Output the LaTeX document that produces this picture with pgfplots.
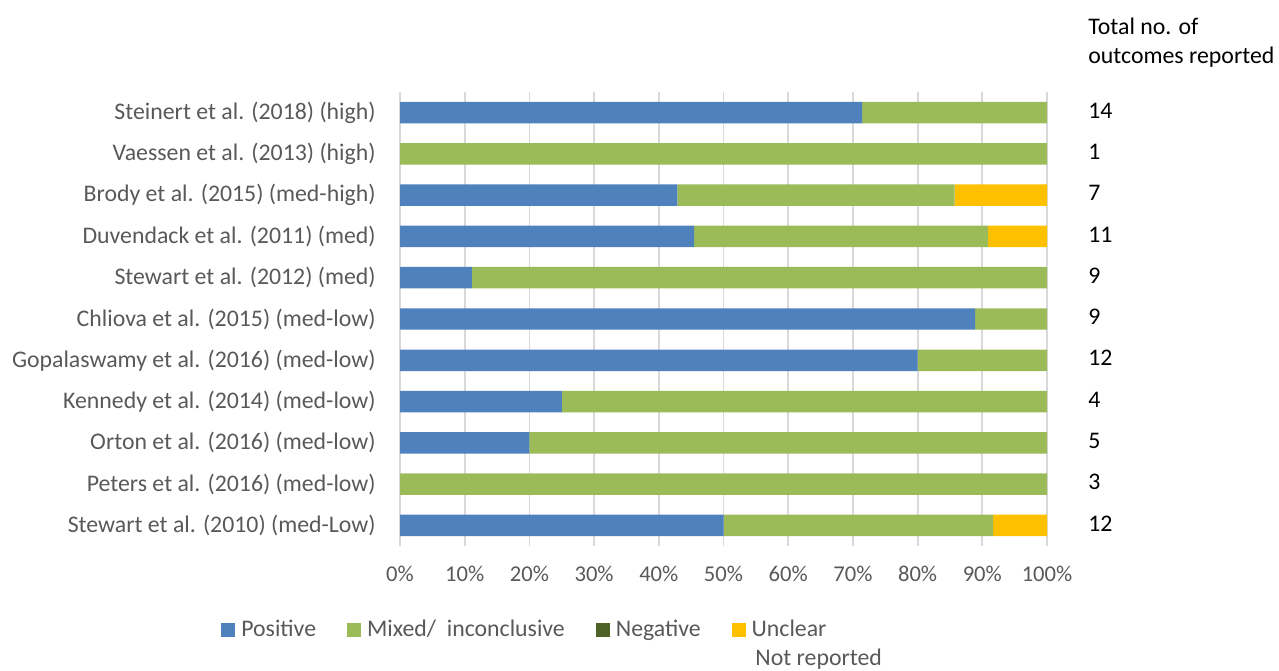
\documentclass[border=0pt]{standalone}
\usepackage{pgfplots}
\pgfplotsset{compat=1.18}
\usepackage{fontspec}
\setmainfont{Carlito}
\definecolor{cpos}{HTML}{4F81BD}
\definecolor{cmix}{HTML}{9BBB59}
\definecolor{cneg}{HTML}{4F6228}
\definecolor{cunc}{HTML}{FFC000}
\definecolor{gridc}{HTML}{D9D9D9}
\definecolor{txt}{HTML}{595959}
\begin{document}
\begin{tikzpicture}[x=1pt,y=1pt]
\fontsize{11.9}{14.3}\selectfont
\useasboundingbox (0,0) rectangle (639.5,335);
\begin{axis}[
  at={(200pt,62pt)}, anchor=south west,
  scale only axis, width=323.5pt, height=227pt,
  clip=false,
  xbar stacked, bar width=0.52,
  xmin=0, xmax=100, ymin=-0.5, ymax=10.5,
  xtick={0,10,...,100},
  xticklabel={\pgfmathprintnumber{\tick}\%},
  xticklabel style={font=\fontsize{11.3}{13.5}\selectfont, text=txt, yshift=-6pt},
  ytick={0,...,10},
  yticklabels={Stewart et al. (2010) (med-Low), Peters et al. (2016) (med-low), Orton et al. (2016) (med-low), Kennedy et al. (2014) (med-low), Gopalaswamy et al. (2016) (med-low), Chliova et al. (2015) (med-low), Stewart et al. (2012) (med), Duvendack et al. (2011) (med), Brody et al. (2015) (med-high), Vaessen et al. (2013) (high), Steinert et al. (2018) (high)},
  yticklabel style={font=\fontsize{11.9}{14.3}\selectfont, text=txt, xshift=-8pt},
  /pgf/number format/assume math mode=true,
  axis line style={draw=none},
  major tick length=0pt,
  xmajorgrids, grid style={draw=gridc, line width=0.9pt},
  legend style={draw=none, at={(-0.286,-0.185)}, anchor=west,
    font=\fontsize{11.9}{14.3}\selectfont, text=txt,
    legend columns=4, column sep=1pt,
    /tikz/every even column/.append style={column sep=13.5pt}},
  legend image code/.code={\fill[#1] (0pt,-3.5pt) rectangle (7pt,3.5pt);},
  every axis plot/.append style={draw=none},
]
\addplot[fill=cpos] coordinates {(50,0) (0,1) (20,2) (25,3) (80,4) (88.9,5) (11.1,6) (45.45,7) (42.86,8) (0,9) (71.43,10)};
\addplot[fill=cmix] coordinates {(41.67,0) (100,1) (80,2) (75,3) (20,4) (11.1,5) (88.9,6) (45.45,7) (42.86,8) (100,9) (28.57,10)};
\addplot[fill=cneg] coordinates {(0,0) (0,1) (0,2) (0,3) (0,4) (0,5) (0,6) (0,7) (0,8) (0,9) (0,10)};
\addplot[fill=cunc] coordinates {(8.33,0) (0,1) (0,2) (0,3) (0,4) (0,5) (0,6) (9.1,7) (14.28,8) (0,9) (0,10)};
\legend{Positive, Mixed/\hspace{0.45em}inconclusive, Negative, Unclear}
\node[anchor=west, inner sep=0pt] at (axis cs:100,0) [xshift=20.5pt, yshift=1pt] {12};
\node[anchor=west, inner sep=0pt] at (axis cs:100,1) [xshift=20.5pt, yshift=1pt] {3};
\node[anchor=west, inner sep=0pt] at (axis cs:100,2) [xshift=20.5pt, yshift=1pt] {5};
\node[anchor=west, inner sep=0pt] at (axis cs:100,3) [xshift=20.5pt, yshift=1pt] {4};
\node[anchor=west, inner sep=0pt] at (axis cs:100,4) [xshift=20.5pt, yshift=1pt] {12};
\node[anchor=west, inner sep=0pt] at (axis cs:100,5) [xshift=20.5pt, yshift=1pt] {9};
\node[anchor=west, inner sep=0pt] at (axis cs:100,6) [xshift=20.5pt, yshift=1pt] {9};
\node[anchor=west, inner sep=0pt] at (axis cs:100,7) [xshift=20.5pt, yshift=1pt] {11};
\node[anchor=west, inner sep=0pt] at (axis cs:100,8) [xshift=20.5pt, yshift=1pt] {7};
\node[anchor=west, inner sep=0pt] at (axis cs:100,9) [xshift=20.5pt, yshift=1pt] {1};
\node[anchor=west, inner sep=0pt] at (axis cs:100,10) [xshift=20.5pt, yshift=1pt] {14};
\end{axis}
\node[anchor=north west, align=left, inner sep=0pt] at (544pt,326pt) {Total no. of\\outcomes reported};
\node[anchor=west, text=txt, inner sep=0pt] at (377.5pt,5.5pt) {Not reported};
\end{tikzpicture}
\end{document}
